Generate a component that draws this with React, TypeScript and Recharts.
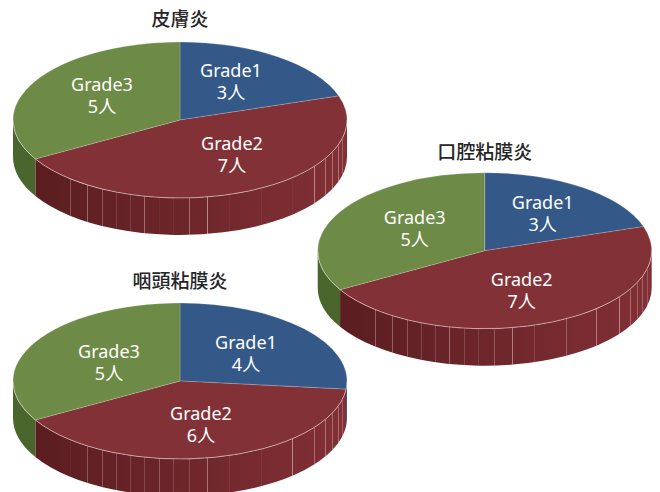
import React from 'react';
import { PieChart, Pie } from 'recharts';

const grades = ['Grade1', 'Grade2', 'Grade3'];
const skinCounts = [3, 7, 5];
const oralCounts = [3, 7, 5];
const pharynxCounts = [4, 6, 5];

const topColors = ['#345989', '#823237', '#6d8b46'];
const wallStops = [
  ['#2c4c75', '#2c4c75'],
  ['#581c1f', '#823036'],
  ['#4a662c', '#44602a'],
];

const RADIUS_X = 167;
const RADIUS_Y = 78;
const DEPTH = 37;
const CHART_W = 660;
const CHART_H = 492;

// Seams on the side wall: degrees either side of the front of the disc.
const seamAngles = [
  -41, -33.7, -27.7, -22.5, -17.3, -12.3, -7.2, -2.3, 3.2, 9.4, 17, 29, 42, 53.4, 60.3, 65.6, 70.8, 75.8,
];
// How strongly each seam shows on each disc.
const skinSeams = [0.3, 0.4, 0.3, 0.15, 0.15, 0.4, 0.05, 0.08, 0.4, 0.55, 0.05, 0.06, 0.04, 0.5, 0.4, 0.4, 0.4, 0.3];
const oralSeams = [0.35, 0.35, 0.3, 0.2, 0.2, 0.4, 0.2, 0.15, 0.3, 0.5, 0.15, 0.3, 0.45, 0.5, 0.35, 0.3, 0.3, 0.25];
const pharynxSeams = [0.06, 0.3, 0.3, 0.25, 0.2, 0.2, 0.3, 0.2, 0.2, 0.45, 0.1, 0.08, 0.55, 0.35, 0.4, 0.35, 0.35, 0.3];

const toRad = (d: number) => (d * Math.PI) / 180;

const ellipsePoint = (cx: number, cy: number, deg: number) => ({
  x: cx + RADIUS_X * Math.cos(toRad(deg)),
  y: cy - RADIUS_Y * Math.sin(toRad(deg)),
});

// Recharts hands over a flat circular sector, this squashes it and adds the wall under it.
const DiscSlice = (props: any) => {
  const { cx, cy, startAngle, endAngle, index, gradientPrefix, seamStrength } = props;
  const from = ellipsePoint(cx, cy, startAngle);
  const to = ellipsePoint(cx, cy, endAngle);
  const large = startAngle - endAngle > 180 ? 1 : 0;
  const top = `M${cx},${cy} L${from.x},${from.y} A${RADIUS_X},${RADIUS_Y} 0 ${large} 1 ${to.x},${to.y} Z`;

  // The wall only shows on the front half, angles -180..0 going clockwise.
  const wallStart = Math.min(startAngle, 0);
  const wallEnd = Math.max(endAngle, -180);
  const hasWall = wallStart > wallEnd;
  let wall = '';
  let rim = '';
  if (hasWall) {
    const a = ellipsePoint(cx, cy, wallStart);
    const b = ellipsePoint(cx, cy, wallEnd);
    wall = `M${a.x},${a.y} A${RADIUS_X},${RADIUS_Y} 0 0 1 ${b.x},${b.y} L${b.x},${b.y + DEPTH} A${RADIUS_X},${RADIUS_Y} 0 0 0 ${a.x},${a.y + DEPTH} Z`;
    rim = `M${a.x},${a.y} A${RADIUS_X},${RADIUS_Y} 0 0 1 ${b.x},${b.y}`;
  }

  return (
    <g>
      {hasWall && <path d={wall} fill={`url(#${gradientPrefix}-${index})`} />}
      {hasWall &&
        seamAngles.map((offset, i) => {
          const deg = -90 + offset;
          if (deg > wallStart || deg < wallEnd) return null;
          const p = ellipsePoint(cx, cy, deg);
          // snapped to the pixel grid so each seam stays one pixel wide
          const x = Math.round(p.x) + 0.5;
          return (
            <line
              key={offset}
              x1={x}
              y1={p.y}
              x2={x}
              y2={p.y + DEPTH}
              stroke="#f0d8d8"
              strokeOpacity={seamStrength[i]}
              strokeWidth={1}
            />
          );
        })}
      <path d={top} fill={topColors[index]} stroke="#ffffff" strokeOpacity={0.3} strokeWidth={0.6} />
      {hasWall && <path d={rim} fill="none" stroke="#f0d8d8" strokeOpacity={0.55} strokeWidth={0.8} />}
    </g>
  );
};

const SliceLabel = (props: any) => {
  const { cx, cy, index, value, offsets } = props;
  const [dx, dy] = offsets[index];
  const x = cx + dx;
  const y = cy + dy;
  return (
    <text x={x} y={y} textAnchor="middle" fill="#ffffff" fontSize={18} fontFamily="'Noto Sans', 'Noto Sans CJK JP', sans-serif">
      <tspan x={x}>{grades[index]}</tspan>
      <tspan x={x} dy={22}>{`${value}人`}</tspan>
    </text>
  );
};

const DiscChart = ({ id, title, counts, cx, cy, titleY, offsets, seamStrength }: any) => {
  const rows = grades.map((name, i) => ({ name, value: counts[i] }));
  return (
    <div style={{ position: 'absolute', left: 0, top: 0 }}>
      <PieChart width={CHART_W} height={CHART_H} margin={{ top: 0, right: 0, bottom: 0, left: 0 }}>
        <defs>
          {wallStops.map(([a, b], i) => (
            <linearGradient key={i} id={`${id}-${i}`} gradientUnits="userSpaceOnUse" x1={cx - RADIUS_X} y1={0} x2={cx + RADIUS_X} y2={0}>
              <stop offset="0%" stopColor={a} />
              <stop offset="100%" stopColor={b} />
            </linearGradient>
          ))}
        </defs>
        <text x={cx} y={titleY} textAnchor="middle" fill="#262626" fontSize={19} fontWeight={500} fontFamily="'Noto Sans CJK JP', sans-serif">
          {title}
        </text>
        <Pie
          data={rows}
          dataKey="value"
          nameKey="name"
          cx={cx}
          cy={cy}
          outerRadius={RADIUS_X}
          startAngle={90}
          endAngle={-270}
          isAnimationActive={false}
          stroke="none"
          rootTabIndex={-1}
          shape={(p: any) => <DiscSlice {...p} gradientPrefix={id} seamStrength={seamStrength} />}
          label={(p: any) => <SliceLabel {...p} offsets={offsets} />}
          labelLine={false}
        />
      </PieChart>
    </div>
  );
};

const skinOffsets = [[51, -43], [52, 30], [-78, -29]];
const oralOffsets = [[58, -41.5], [37, 35], [-70, -26.5]];
const pharynxOffsets = [[66, -32], [21, 39], [-71, -23]];

export default function App() {
  return (
    <div style={{ position: 'fixed', left: 0, top: 0, width: CHART_W, height: CHART_H, overflow: 'hidden', background: '#ffffff' }}>
      <DiscChart id="skin" title="皮膚炎" counts={skinCounts} cx={180} cy={120} titleY={26} offsets={skinOffsets} seamStrength={skinSeams} />
      <DiscChart id="pharynx" title="咽頭粘膜炎" counts={pharynxCounts} cx={180} cy={381} titleY={288} offsets={pharynxOffsets} seamStrength={pharynxSeams} />
      <DiscChart id="oral" title="口腔粘膜炎" counts={oralCounts} cx={484.7} cy={250.7} titleY={159} offsets={oralOffsets} seamStrength={oralSeams} />
    </div>
  );
}
